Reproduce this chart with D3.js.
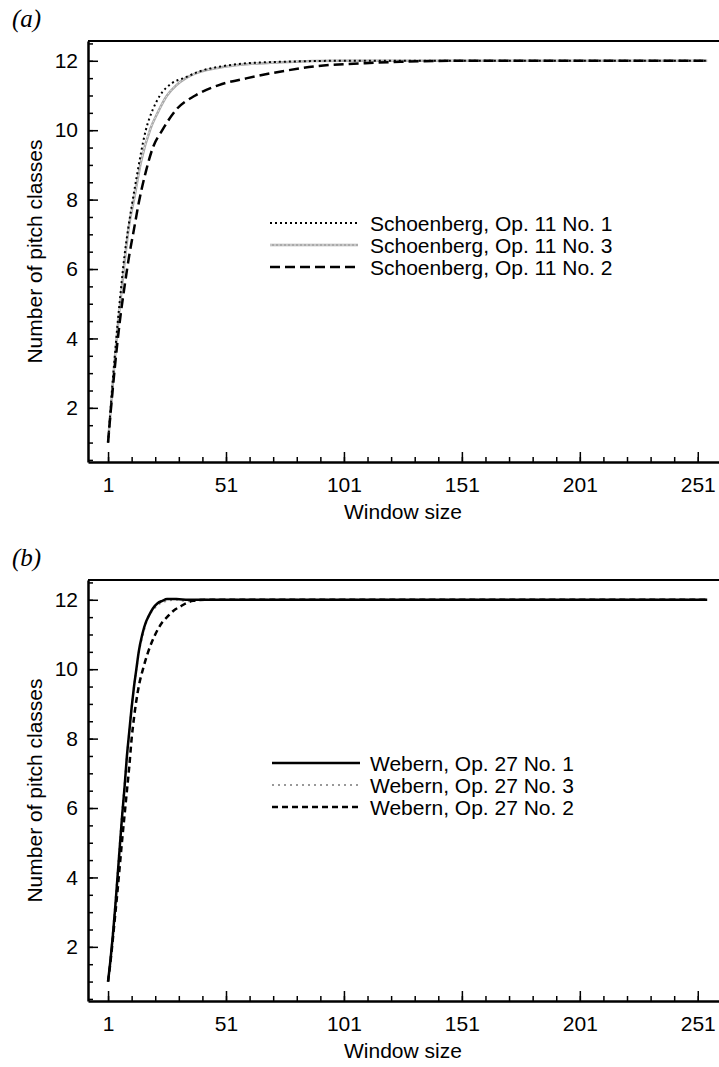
<!DOCTYPE html>
<html>
<head>
<meta charset="utf-8">
<script src="https://cdn.jsdelivr.net/npm/d3@7"></script>
<style>
  body { margin: 0; background: #fff; }
  text { font-family: "Liberation Sans", Arial, sans-serif; }
</style>
</head>
<body>
<div id="chart"></div>
<script>
// tick values
const xTicks = [1, 51, 101, 151, 201, 251];
const xMinor = d3.range(1, 261, 10);
const yTicks = [2, 4, 6, 8, 10, 12];
const yMinor = d3.range(0.5, 12.6, 0.5);

// (a) Schoenberg, Op. 11 -- [window size, number of pitch classes]
const op11no1 = [[1,1],[2,1.9],[3,2.8],[4,3.6],[5,4.4],[6,5.1],[8,6.4],[9.5,7.15],[11,7.8],[13,8.6],[17,10],[20,10.6],[23,11],[28,11.35],[33,11.5],[40,11.7],[50,11.85],[60,11.93],[80,11.98],[100,12],[255,12]];
const op11no3 = [[1,1],[2,1.85],[3,2.7],[4,3.5],[5,4.25],[6,4.9],[8,6.2],[10,7.3],[12,8],[15,9.1],[19,10.05],[22,10.5],[26,11],[30,11.3],[34,11.5],[40,11.68],[48,11.8],[60,11.9],[75,11.96],[100,12],[255,12]];
const op11no2 = [[1,1],[2,1.8],[3,2.55],[4,3.25],[5,3.9],[6,4.5],[8,5.5],[10,6.4],[12,7.15],[14,7.9],[17,8.8],[20,9.5],[24,10],[30,10.6],[38,11],[48,11.3],[60,11.5],[75,11.7],[90,11.85],[110,11.93],[125,11.97],[150,12],[255,12]];

// (b) Webern, Op. 27
const op27no1 = [[1,1],[2,1.6],[3,2.3],[4,3.1],[5,4],[6,4.9],[7,5.8],[8,6.6],[9,7.5],[10,8.2],[11,8.9],[12,9.5],[13,10],[14,10.5],[15.5,11],[17,11.35],[18,11.5],[20,11.75],[22,11.9],[24,11.97],[26,12.02],[30,12.02],[35,12],[255,12]];
const op27no3 = [[1,1],[2,1.65],[3,2.4],[4,3.2],[5,4.1],[6,5],[7,5.9],[8,6.7],[9,7.5],[10,8.2],[11,8.9],[12,9.5],[13,10],[14,10.45],[16,11.05],[18,11.5],[20,11.7],[22,11.85],[25,11.95],[30,12],[34,11.96],[37,11.97],[40,12],[255,12]];
const op27no2 = [[1,1],[2,1.55],[3,2.2],[4,2.9],[5,3.6],[6,4.35],[7,5.1],[8,5.8],[9,6.5],[10,7.2],[11,8],[12,8.6],[14,9.5],[16,10.05],[18,10.5],[21,11],[24,11.35],[26,11.5],[29,11.7],[31.5,11.8],[34,11.9],[37,11.97],[42,12],[255,12]];

// line styles
const styles = {
  dotted: { stroke: "#000", width: 2, dash: "2,3" },
  grayTex: { stroke: "#aaa", width: 2.5, dash: null, overlay: true },
  longDash: { stroke: "#000", width: 2.5, dash: "10,5" },
  solid: { stroke: "#000", width: 2.5, dash: null },
  grayDot: { stroke: "#999", width: 2, dash: "2,4" },
  shortDash: { stroke: "#000", width: 2.5, dash: "6,4" }
};

const panels = [
  {
    label: "(a)", top: 41, bottom: 462, labelY: 27,
    series: [
      { name: "Schoenberg, Op. 11 No. 1", data: op11no1, style: "dotted" },
      { name: "Schoenberg, Op. 11 No. 3", data: op11no3, style: "grayTex" },
      { name: "Schoenberg, Op. 11 No. 2", data: op11no2, style: "longDash" }
    ],
    order: [1, 0, 2],
    legendY: 223, legendX: 270, textX: 370
  },
  {
    label: "(b)", top: 580, bottom: 1001, labelY: 566,
    series: [
      { name: "Webern, Op. 27 No. 1", data: op27no1, style: "solid" },
      { name: "Webern, Op. 27 No. 3", data: op27no3, style: "grayDot" },
      { name: "Webern, Op. 27 No. 2", data: op27no2, style: "shortDash" }
    ],
    order: [1, 2, 0],
    legendY: 763, legendX: 272, textX: 370
  }
];

const svg = d3.select("#chart")
  .append("svg")
  .attr("width", 719)
  .attr("height", 1067);

const left = 88, right = 719;

function applyStyle(sel, st) {
  sel.attr("fill", "none")
    .attr("stroke", st.stroke)
    .attr("stroke-width", st.width)
    .attr("stroke-dasharray", st.dash);
}

panels.forEach(function (p) {
  const x = d3.scaleLinear().domain([-7.5, 260]).range([left, right]);
  const y = d3.scaleLinear().domain([0.44, 12.57]).range([p.bottom, p.top]);
  const g = svg.append("g");

  // panel label
  g.append("text")
    .attr("x", 12)
    .attr("y", p.labelY)
    .style("font-family", "'Liberation Serif', 'DejaVu Serif', serif")
    .style("font-style", "italic")
    .style("font-size", "25px")
    .text(p.label);

  // curves
  const line = d3.line()
    .x(d => x(d[0]))
    .y(d => y(d[1]))
    .curve(d3.curveMonotoneX);

  p.order.forEach(function (i) {
    const s = p.series[i];
    const st = styles[s.style];
    applyStyle(g.append("path").attr("d", line(s.data)), st);
    if (st.overlay) {
      g.append("path").attr("d", line(s.data))
        .attr("fill", "none").attr("stroke", "#e4e4e4")
        .attr("stroke-width", 1).attr("stroke-dasharray", "2,2");
    }
  });

  // top border
  g.append("line")
    .attr("x1", left).attr("x2", right)
    .attr("y1", p.top).attr("y2", p.top)
    .attr("stroke", "#000").attr("stroke-width", 2);

  // x axis
  const xAxisG = g.append("g").attr("transform", `translate(0,${p.bottom})`);
  xAxisG.append("g")
    .call(d3.axisBottom(x).tickValues(xMinor).tickSize(-5).tickFormat("").tickSizeOuter(0))
    .call(a => a.select(".domain").remove());
  xAxisG.append("g")
    .call(d3.axisBottom(x).tickValues(xTicks).tickSize(-10).tickPadding(15).tickSizeOuter(0))
    .call(a => a.select(".domain").attr("stroke-width", 2.5));
  xAxisG.selectAll(".tick line").attr("stroke-width", 1.5);
  xAxisG.selectAll("text")
    .style("font-family", "'Liberation Sans', Arial, sans-serif")
    .style("font-size", "21px")
    .attr("fill", "#000");

  g.append("text")
    .attr("x", (x(1) + x(251)) / 2)
    .attr("y", p.bottom + 57)
    .attr("text-anchor", "middle")
    .style("font-size", "21px")
    .text("Window size");

  // y axis
  const yAxisG = g.append("g").attr("transform", `translate(${left},0)`);
  yAxisG.append("g")
    .call(d3.axisLeft(y).tickValues(yMinor).tickSize(-5).tickFormat("").tickSizeOuter(0))
    .call(a => a.select(".domain").remove());
  yAxisG.append("g")
    .call(d3.axisLeft(y).tickValues(yTicks).tickSize(-10).tickPadding(10).tickSizeOuter(0))
    .call(a => a.select(".domain").attr("stroke-width", 2.5));
  yAxisG.selectAll(".tick line").attr("stroke-width", 1.5);
  yAxisG.selectAll("text")
    .style("font-family", "'Liberation Sans', Arial, sans-serif")
    .style("font-size", "21px")
    .attr("fill", "#000");

  g.append("text")
    .attr("transform", `translate(42,${(p.top + p.bottom) / 2}) rotate(-90)`)
    .attr("text-anchor", "middle")
    .style("font-size", "21px")
    .text("Number of pitch classes");

  // legend
  p.series.forEach(function (s, i) {
    const ly = p.legendY + i * 22;
    const st = styles[s.style];
    applyStyle(g.append("line")
      .attr("x1", p.legendX).attr("x2", p.legendX + 88)
      .attr("y1", ly).attr("y2", ly), st);
    if (st.overlay) {
      g.append("line")
        .attr("x1", p.legendX).attr("x2", p.legendX + 88)
        .attr("y1", ly).attr("y2", ly)
        .attr("stroke", "#e4e4e4").attr("stroke-width", 1).attr("stroke-dasharray", "2,2");
    }
    g.append("text")
      .attr("x", p.textX)
      .attr("y", ly)
      .attr("dy", "0.36em")
      .style("font-size", "21px")
      .text(s.name);
  });
});
</script>
</body>
</html>
